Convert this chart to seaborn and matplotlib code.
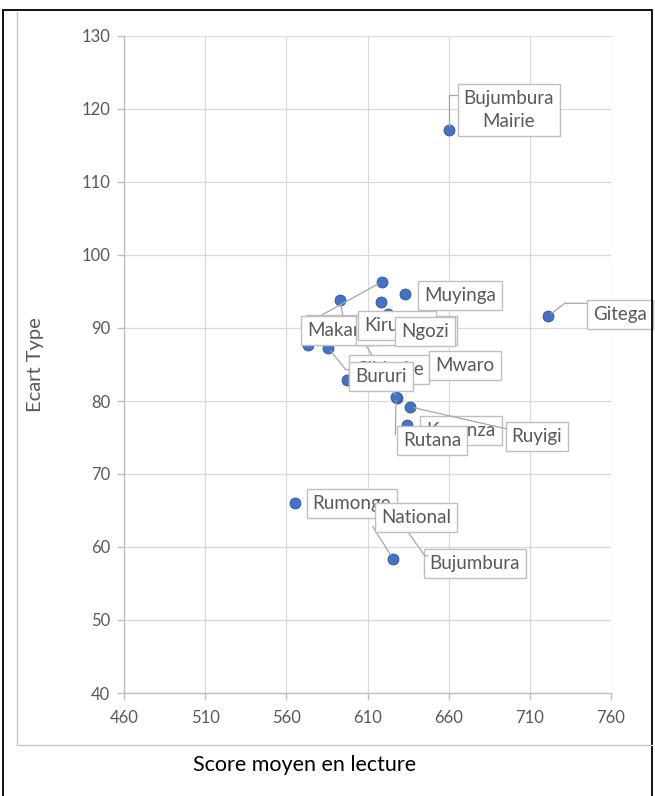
import matplotlib
matplotlib.use("Agg")
import matplotlib.pyplot as plt
from matplotlib.lines import Line2D
from matplotlib.patches import Rectangle
import seaborn as sns
import pandas as pd

# Provinces: mean reading score and its standard deviation
provinces = [
    "Karuzi", "Cankuzo", "Makamba", "Muramvya", "Kirundo", "Ngozi", "Muyinga",
    "Cibitoke", "Mwaro", "Bururi", "Kayanza", "Ruyigi", "Rutana", "Rumonge",
    "Bujumbura", "National", "Bujumbura\nMairie", "Gitega",
]
score_moyen = [
    618.7, 573.3, 593.1, 628.4, 618.3, 622.6, 633.1,
    585.7, 643.6, 597.4, 634.3, 636.2, 627.6, 565.3,
    625.7, 649.7, 660.2, 721.2,
]
ecart_type = [
    96.3, 87.7, 93.8, 80.4, 93.6, 91.9, 94.7,
    87.3, 84.8, 82.9, 76.7, 79.2, 80.6, 66.0,
    58.4, 58.8, 117.1, 91.6,
]

x_ticks = [460, 510, 560, 610, 660, 710, 760]
y_ticks = [40, 50, 60, 70, 80, 90, 100, 110, 120, 130]

# Label placement: offset of the label box centre from its point (pixels)
label_offset = {
    "Karuzi": (-34, -48), "Cankuzo": (40, 15), "Makamba": (8, -30),
    "Muramvya": (9, 68), "Kirundo": (16, -24), "Ngozi": (37, -17),
    "Muyinga": (55, -2), "Cibitoke": (61, -22), "Mwaro": (43, 0),
    "Bururi": (34, 3), "Kayanza": (54, -5), "Ruyigi": (127, -30),
    "Rutana": (36, -44), "Rumonge": (57, 0), "Bujumbura": (82, -5),
    "National": (-16, 38), "Bujumbura\nMairie": (60, 20), "Gitega": (72, 2),
}
# Leader lines: (relative start on the label box, connection style)
leaders = {
    "Bujumbura\nMairie": ((-0.03, 0.87), "angle,angleA=0,angleB=90,rad=0"),
    "Gitega": ((-0.03, 1.15), "angle,angleA=0,angleB=38,rad=0"),
    "Makamba": ((0.45, 1.0), "arc3"),
    "Karuzi": ((-0.4, 0.7), "arc3"),
    "Muramvya": ((0.0, 0.0), "arc3"),
    "Cibitoke": ((0.0, 0.5), "angle,angleA=0,angleB=-51,rad=0"),
    "Rutana": ((-0.13, 0.85), "arc3"),
    "Ruyigi": ((0.0, 0.9), "arc3"),
    "National": ((0.33, 0.0), "angle,angleA=-55,angleB=0,rad=0"),
    "Bujumbura": ((-0.63, 2.68), "arc3"),
}

df = pd.DataFrame({"province": provinces, "score": score_moyen, "sd": ecart_type})

sns.set_theme(style="whitegrid")
plt.rcParams["font.family"] = ["Lato", "DejaVu Sans"]

W, H = 655, 796
fig = plt.figure(figsize=(W / 100, H / 100), dpi=100)
fig.patch.set_facecolor("white")
ax = fig.add_axes([124 / W, 1 - 693 / H, (611 - 124) / W, (693 - 36) / H])

sns.scatterplot(data=df, x="score", y="sd", ax=ax, s=62, color="#4472C4",
                edgecolor="#2F5597", linewidth=0.6, zorder=3, legend=False)

ax.set_xlim(460, 760)
ax.set_ylim(40, 130)
ax.set_xticks(x_ticks)
ax.set_yticks(y_ticks)
ax.set_xlabel("")
ax.set_ylabel("")
ax.grid(True, color="#d9d9d9", linewidth=0.9)
ax.set_facecolor("white")
for side in ("top", "right"):
    ax.spines[side].set_visible(False)
for side in ("left", "bottom"):
    ax.spines[side].set_visible(True)
    ax.spines[side].set_color("#bfbfbf")
    ax.spines[side].set_linewidth(1.0)
ax.tick_params(axis="both", which="major", length=5, width=1.0, color="#bfbfbf",
               labelcolor="#595959", labelsize=12, left=True, bottom=True)
ax.tick_params(axis="y", pad=5)
ax.tick_params(axis="x", pad=7)

# Data labels drawn bottom to top, later boxes covering earlier ones
for i, (name, x, y) in enumerate(zip(provinces, score_moyen, ecart_type)):
    dx, dy = label_offset[name]
    arrow = None
    if name in leaders:
        rel, conn = leaders[name]
        arrow = dict(arrowstyle="-", color="#a6a6a6", lw=0.9, relpos=rel,
                     connectionstyle=conn, shrinkA=0, shrinkB=3, patchA=None)
    ax.annotate(name, xy=(x, y), xytext=(dx, dy), textcoords="offset pixels",
                ha="center", va="center", fontsize=13.5, color="#595959",
                multialignment="center", linespacing=1.45,
                bbox=dict(boxstyle="square,pad=0.32", fc="white", ec="#bfbfbf", lw=1.0),
                arrowprops=arrow, zorder=10 + i, annotation_clip=False)

# Y and X axis titles
fig.text(35 / W, 1 - 365 / H, "Ecart Type", rotation=90, ha="center", va="center",
         fontsize=14.5, color="#595959")
fig.text(305 / W, 1 - 765 / H, "Score moyen en lecture", ha="center", va="center",
         fontsize=15.5, color="black")

# Outer frame and inner chart-area border
fig.add_artist(Rectangle((3 / W, -0.01), (652 - 3) / W, 1.01 - 10 / H,
                         transform=fig.transFigure, fill=False, ec="black", lw=1.3))
fig.add_artist(Line2D([17 / W, 17 / W], [1 - 12 / H, 1 - 745 / H],
                      transform=fig.transFigure, color="#c8c8c8", lw=1.0))
fig.add_artist(Line2D([17 / W, 652 / W], [1 - 745 / H, 1 - 745 / H],
                      transform=fig.transFigure, color="#c8c8c8", lw=1.0))

fig.savefig("out.png", dpi=100, facecolor="white")
